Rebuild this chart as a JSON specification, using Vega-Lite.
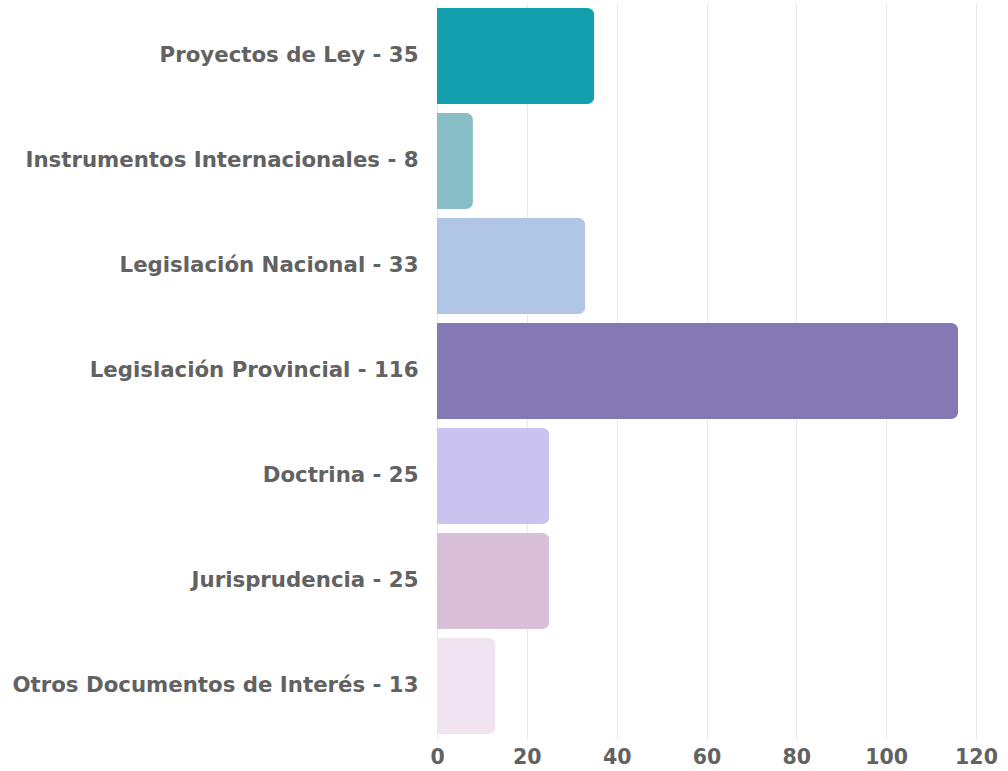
{
  "$schema": "https://vega.github.io/schema/vega-lite/v6.json",
  "width": 539,
  "height": 736,
  "padding": {"left": 0, "top": 3, "right": 5, "bottom": 5},
  "background": "white",
  "config": {"view": {"stroke": null}, "font": "DejaVu Sans"},
  "data": {
    "values": [
      {"categoria": "Proyectos de Ley - 35", "valor": 35, "color": "#13A0AE"},
      {"categoria": "Instrumentos Internacionales - 8", "valor": 8, "color": "#87BEC6"},
      {"categoria": "Legislación Nacional - 33", "valor": 33, "color": "#B1C6E6"},
      {"categoria": "Legislación Provincial - 116", "valor": 116, "color": "#8479B5"},
      {"categoria": "Doctrina - 25", "valor": 25, "color": "#CAC3EF"},
      {"categoria": "Jurisprudencia - 25", "valor": 25, "color": "#D9C0D8"},
      {"categoria": "Otros Documentos de Interés - 13", "valor": 13, "color": "#F1E4F1"}
    ]
  },
  "mark": {"type": "bar", "cornerRadiusEnd": 7},
  "encoding": {
    "y": {
      "field": "categoria",
      "type": "nominal",
      "sort": null,
      "scale": {"paddingInner": 0.086, "paddingOuter": 0.048},
      "axis": {
        "title": null,
        "domain": false,
        "ticks": false,
        "grid": false,
        "labelFont": "DejaVu Sans",
        "labelFontWeight": "bold",
        "labelFontSize": 21.3,
        "labelColor": "#626262",
        "labelPadding": 19,
        "labelLimit": 450,
        "minExtent": 437,
        "maxExtent": 437
      }
    },
    "x": {
      "field": "valor",
      "type": "quantitative",
      "scale": {"domain": [0, 120], "nice": false},
      "axis": {
        "title": null,
        "values": [0, 20, 40, 60, 80, 100, 120],
        "domain": false,
        "ticks": false,
        "grid": true,
        "gridColor": "#E9E9E9",
        "gridWidth": 1,
        "labelFont": "DejaVu Sans",
        "labelFontWeight": "bold",
        "labelFontSize": 20.5,
        "labelColor": "#626262",
        "labelPadding": 8,
        "labelFlush": false
      }
    },
    "color": {"field": "color", "type": "nominal", "scale": null, "legend": null}
  }
}
